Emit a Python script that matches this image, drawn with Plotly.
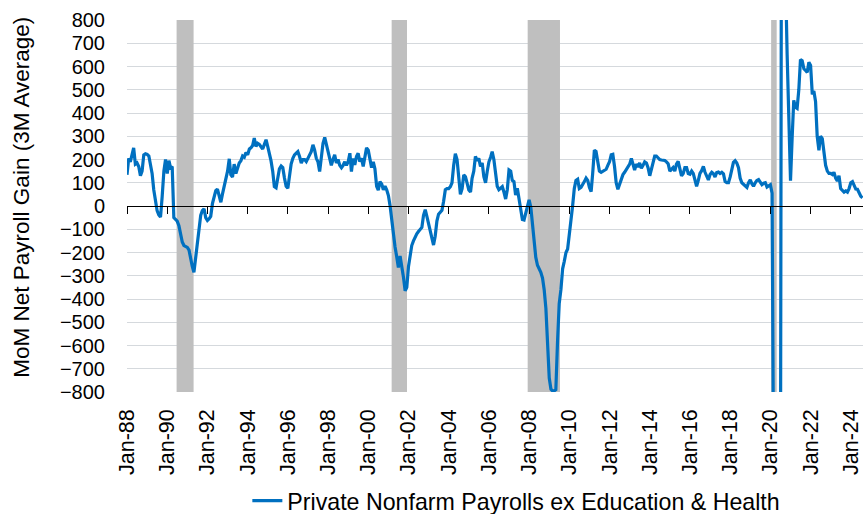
import pandas as pd
import plotly.graph_objects as go

# ---- data (monthly, starting Jan-1988) ----
start_month = "1988-01-01"
payroll_gain_3m = [
    134, 205, 190, 215, 250, 180, 185, 170, 130, 150, 220, 225,        # 1988
    222, 215, 185, 140, 70, 10, -20, -38, -48, 40, 150, 200,            # 1989
    140, 195, 165, 170, -50, -58, -65, -85, -125, -155, -170, -175,     # 1990
    -178, -190, -230, -260, -285, -220, -140, -75, -40, -20, -12, -50,  # 1991
    -62, -55, -45, 10, 40, 66, 73, 44, 16, 52, 88, 110,                 # 1992
    150, 203, 135, 125, 180, 140, 165, 185, 195, 215, 210, 230,         # 1993
    220, 245, 250, 260, 292, 256, 270, 265, 255, 245, 265, 285,         # 1994
    255, 225, 195, 150, 83, 78, 120, 160, 172, 165, 120, 85,            # 1995
    76, 130, 180, 205, 220, 227, 234, 213, 185, 200, 200, 191,          # 1996
    205, 225, 234, 263, 241, 205, 190, 148, 200, 270, 295, 265,         # 1997
    245, 210, 175, 200, 220, 185, 200, 175, 165, 175, 190, 175,         # 1998
    190, 227, 148, 205, 177, 213, 227, 191, 205, 170, 220, 250,         # 1999
    240, 205, 165, 190, 160, 85, 68, 105, 95, 70, 85, 70,               # 2000
    45, 0, -60, -118, -175, -218, -265, -215, -258, -305, -365, -350,   # 2001
    -260, -205, -170, -150, -132, -120, -110, -103, -92, -40, -16, -45, # 2002
    -75, -110, -140, -168, -130, -65, -35, -24, -18, 20, 70, 75,        # 2003
    75, 83, 100, 175, 225, 200, 130, 50, 75, 134, 126, 100,             # 2004
    69, 60, 119, 150, 213, 195, 205, 170, 185, 126, 100, 148,           # 2005
    190, 210, 234, 200, 140, 85, 70, 75, 83, 60, 30, 70,                # 2006
    155, 150, 110, 105, 47, 76, 26, -5, -58, -60, -30, 10,              # 2007
    26, -5, -80, -150, -220, -255, -270, -285, -310, -360, -440, -560,  # 2008
    -740, -788, -795, -795, -790, -580, -420, -360, -270, -238, -200, -185,  # 2009
    -120, -80, 0, 75, 110, 115, 75, 80, 90, 105, 120, 110,              # 2010
    80, 62, 140, 240, 235, 190, 150, 145, 150, 155, 158, 175,           # 2011
    190, 220, 222, 170, 100, 72, 95, 120, 135, 145, 155, 165,           # 2012
    180, 205, 175, 155, 180, 168, 185, 162, 175, 190, 185, 165,         # 2013
    130, 160, 195, 215, 215, 205, 200, 198, 197, 196, 190, 182,         # 2014
    150, 160, 165, 150, 180, 192, 165, 130, 140, 165, 165, 140,         # 2015
    137, 150, 140, 115, 85, 110, 140, 152, 170, 145, 130, 112,          # 2016
    135, 145, 140, 125, 144, 146, 140, 145, 138, 105, 100, 100,         # 2017
    125, 160, 188, 195, 185, 165, 120, 100, 92, 85, 80, 100,            # 2018
    112, 95, 85, 100, 110, 114, 105, 92, 98, 100, 82, 88,               # 2019
    92, 55, -1200, -6000, -4500, -2500, -1500, 3000, 1800, 1000, 650, 380,  # 2020
    109, 300, 454, 425, 420, 500, 630, 625, 590, 583, 575, 618,         # 2021
    605, 480, 495, 450, 300, 240, 300, 290, 220, 175, 150, 140,         # 2022
    140, 135, 145, 120, 108, 130, 75, 66, 60, 65, 60, 75,               # 2023
    100, 105, 85, 73, 72, 55, 42, 35,                                   # 2024
]
recession_starts = ["1990-06-20", "2001-03-01", "2007-12-06", "2020-01-15"]
recession_ends = ["1991-04-25", "2001-12-05", "2009-07-15", "2020-04-25"]
series_name = "Private Nonfarm Payrolls ex Education & Health"
y_title = "MoM Net Payroll Gain (3M Average)"
x_range = ["1988-01-01", "2024-08-10"]
y_range = [-800, 800]

dates = pd.date_range(start_month, periods=len(payroll_gain_3m), freq="MS")

FONT = "Liberation Sans, Arial, Helvetica, sans-serif"
BLUE = "#0070C0"

fig = go.Figure()
fig.add_trace(go.Scatter(
    x=dates, y=payroll_gain_3m, mode="lines", name=series_name,
    line=dict(color=BLUE, width=3.2), hoverinfo="x+y",
))
# invisible helper trace to carry the zero-level tick axis
fig.add_trace(go.Scatter(
    x=dates, y=payroll_gain_3m, xaxis="x2", mode="lines",
    line=dict(color="rgba(0,0,0,0)", width=0), showlegend=False, hoverinfo="skip",
))

for s, e in zip(recession_starts, recession_ends):
    fig.add_shape(type="rect", xref="x", yref="y", x0=s, x1=e,
                  y0=y_range[0], y1=y_range[1], fillcolor="#BFBFBF",
                  line=dict(width=0), layer="between")

fig.update_layout(
    width=863, height=514,
    margin=dict(l=127, r=0, t=20, b=122, autoexpand=False),
    paper_bgcolor="white", plot_bgcolor="white",
    font=dict(family=FONT, color="black"),
    showlegend=True,
    legend=dict(orientation="h", x=0.529, xanchor="center", y=-0.293,
                yanchor="middle", font=dict(size=23.2, family=FONT),
                bgcolor="rgba(0,0,0,0)"),
    xaxis=dict(
        type="date", range=x_range, tickformat="%b-%y", dtick="M24",
        tick0="1988-01-01", tickangle=-90, showgrid=False, zeroline=False,
        showline=False, ticks="", ticklabelstandoff=12, automargin=False,
        tickfont=dict(size=21.5, family=FONT, color="black"),
    ),
    xaxis2=dict(
        type="date", matches="x", overlaying="x", anchor="free", position=0.5,
        side="bottom", dtick="M24", tick0="1988-01-01", showticklabels=False,
        showgrid=False, zeroline=False, showline=True, linecolor="black",
        linewidth=1.3, ticks="outside", ticklen=7, tickwidth=1.3,
        tickcolor="black", automargin=False,
    ),
    yaxis=dict(
        range=y_range, dtick=100, tick0=0, showgrid=True, gridcolor="#D5D9DD",
        gridwidth=1.3, zeroline=False, showline=False, ticks="",
        ticklabelstandoff=21, automargin=False,
        tickfont=dict(size=20, family=FONT, color="black"),
    ),
    annotations=[dict(
        text=y_title, textangle=-90, xref="paper", yref="paper",
        x=-0.1427, y=0.525, xanchor="center", yanchor="middle",
        showarrow=False, font=dict(size=22.5, family=FONT, color="black"),
    )],
)

fig.write_html(
    "out.html",
    config={"displayModeBar": False},
    post_script="document.body.style.margin='0';document.body.style.padding='0';",
)
